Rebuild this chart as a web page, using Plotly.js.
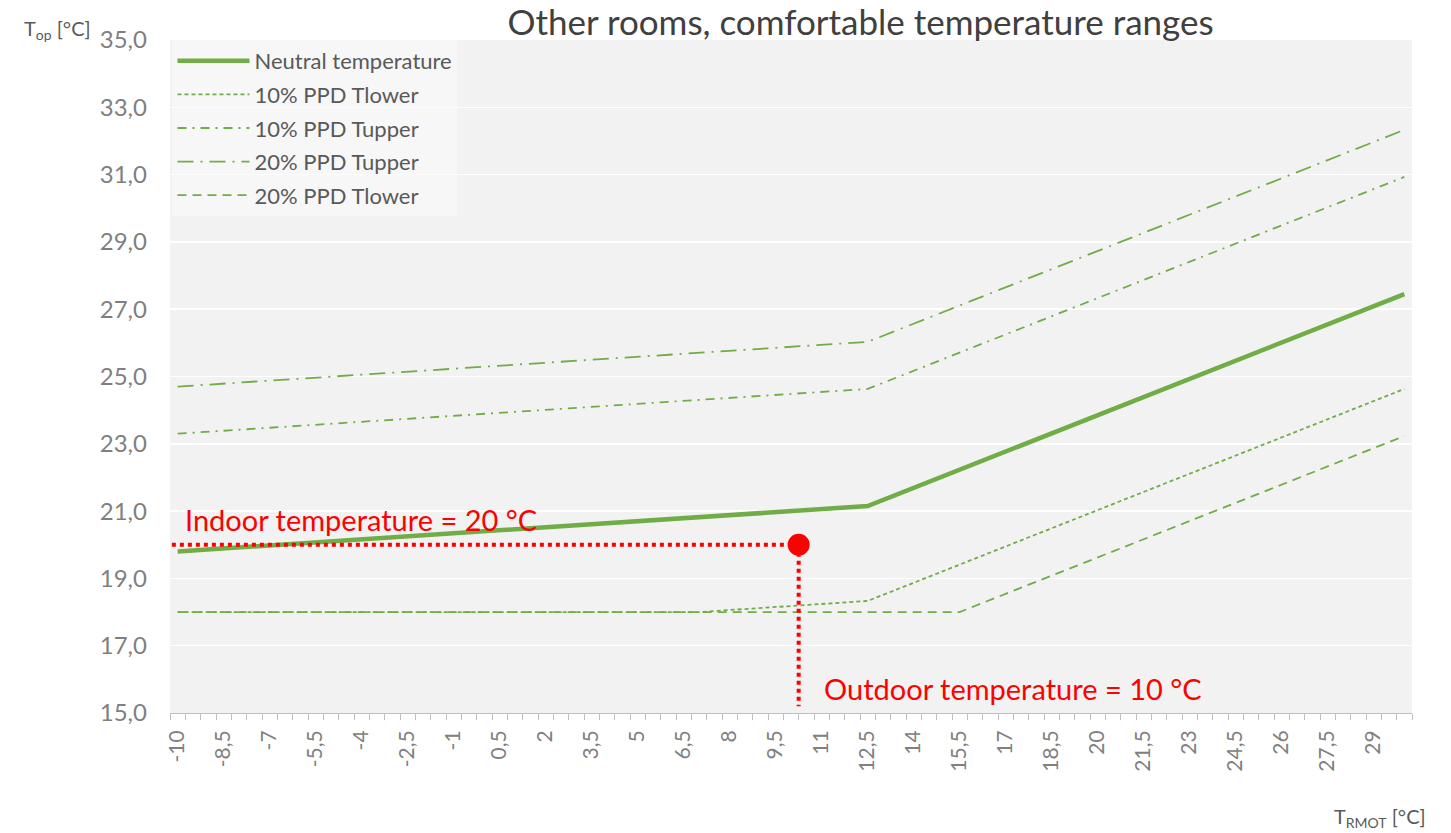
<!DOCTYPE html>
<html>
<head>
<meta charset="utf-8">
<script src="https://cdn.plot.ly/plotly-3.0.1.min.js"></script>
<style>html,body{margin:0;padding:0;background:#fff;}#chart{width:1451px;height:833px;}</style>
</head>
<body>
<div id="chart"></div>
<script>
// Series breakpoints (x = T_RMOT, y = T_op)
const neutralX = [-10, 12, 12.5, 30];
const neutralY = [19.8, 21.1, 21.15, 27.45];
const ppd10LowerX = [-10, 7, 12, 12.5, 30];
const ppd10LowerY = [18.0, 18.0, 18.3, 18.33, 24.63];
const ppd10UpperX = [-10, 12, 12.5, 30];
const ppd10UpperY = [23.3, 24.6, 24.63, 30.93];
const ppd20UpperX = [-10, 12, 12.5, 30];
const ppd20UpperY = [24.7, 26.0, 26.03, 32.33];
const ppd20LowerX = [-10, 15.5, 30];
const ppd20LowerY = [18.0, 18.0, 23.23];
const seriesNames = ['Neutral temperature', '10% PPD Tlower', '10% PPD Tupper', '20% PPD Tupper', '20% PPD Tlower'];

// Highlighted point
const pointX = [10.25];
const pointY = [20.0];

// Axis ticks
const xTickVals = [-10, -8.5, -7, -5.5, -4, -2.5, -1, 0.5, 2, 3.5, 5, 6.5, 8, 9.5, 11, 12.5, 14, 15.5, 17, 18.5, 20, 21.5, 23, 24.5, 26, 27.5, 29];
const xTickText = ['-10', '-8,5', '-7', '-5,5', '-4', '-2,5', '-1', '0,5', '2', '3,5', '5', '6,5', '8', '9,5', '11', '12,5', '14', '15,5', '17', '18,5', '20', '21,5', '23', '24,5', '26', '27,5', '29'];
const yTickVals = [15, 17, 19, 21, 23, 25, 27, 29, 31, 33, 35];
const yTickText = ['15,0', '17,0', '19,0', '21,0', '23,0', '25,0', '27,0', '29,0', '31,0', '33,0', '35,0'];

const green = '#70ad47';
const FONT = 'Lato, "Open Sans", sans-serif';

const traces = [
  {x: neutralX, y: neutralY, name: seriesNames[0], legendgroup: 'g0', mode: 'lines', line: {color: green, width: 4.5}},
  {x: ppd10LowerX, y: ppd10LowerY, name: seriesNames[1], legendgroup: 'g1', mode: 'lines', line: {color: green, width: 1.8, dash: '4px,3px'}},
  {x: ppd10UpperX, y: ppd10UpperY, name: seriesNames[2], legendgroup: 'g2', mode: 'lines', line: {color: green, width: 1.8, dash: '9px,6px,2px,6px'}},
  {x: ppd20UpperX, y: ppd20UpperY, name: seriesNames[3], legendgroup: 'g3', mode: 'lines', line: {color: green, width: 1.8, dash: '16px,7px,2px,7px'}},
  {x: ppd20LowerX, y: ppd20LowerY, name: seriesNames[4], legendgroup: 'g4', mode: 'lines', line: {color: green, width: 1.8, dash: '9px,6px'}},
  {x: pointX, y: pointY, mode: 'markers', showlegend: false, hoverinfo: 'skip',
   marker: {color: '#ff0000', size: 22}}
];

const layout = {
  width: 1451, height: 833,
  margin: {l: 170, r: 39, t: 40, b: 120},
  paper_bgcolor: '#ffffff',
  plot_bgcolor: '#f2f2f2',
  font: {family: FONT, color: '#595959'},
  separators: ', ',
  title: {text: 'Other rooms, comfortable temperature ranges', font: {family: FONT, size: 35, color: '#404040'},
          x: 0.556, xref: 'paper', xanchor: 'center', y: 0.973, yref: 'container', yanchor: 'middle'},
  xaxis: {
    type: 'linear', range: [-10.25, 30.25], fixedrange: true,
    tickmode: 'array', tickvals: xTickVals, ticktext: xTickText, tickangle: -90,
    ticks: '', showgrid: false, zeroline: false,
    showline: true, linecolor: '#bfbfbf', linewidth: 1,
    tickfont: {family: FONT, size: 21, color: '#808080'},
    ticklabelstandoff: 8,
    minor: {tick0: -10.25, dtick: 0.5, ticks: 'outside', ticklen: 6, tickcolor: '#bfbfbf', tickwidth: 1, showgrid: false}
  },
  yaxis: {
    range: [15, 35], fixedrange: true,
    tickmode: 'array', tickvals: yTickVals, ticktext: yTickText,
    ticks: '', showline: false, zeroline: false,
    showgrid: true, gridcolor: '#ffffff', gridwidth: 1.5,
    tickfont: {family: FONT, size: 24, color: '#7f7f7f'},
    ticklabelstandoff: 22
  },
  legend: {
    x: 0.002, y: 1.0, xanchor: 'left', yanchor: 'top',
    bgcolor: 'rgba(250,250,250,0.6)', borderwidth: 0,
    font: {family: FONT, size: 22, color: '#595959'},
    itemwidth: 72, tracegroupgap: 2
  },
  shapes: [
    {type: 'line', xref: 'x', yref: 'y', x0: -10.45, x1: pointX[0], y0: pointY[0], y1: pointY[0],
     line: {color: '#ff0000', width: 4, dash: 'dot'}, layer: 'above'},
    {type: 'line', xref: 'x', yref: 'y', x0: pointX[0], x1: pointX[0], y0: pointY[0], y1: 15.2,
     line: {color: '#ff0000', width: 4, dash: 'dot'}, layer: 'above'}
  ],
  annotations: [
    {text: 'Indoor temperature = 20 °C', xref: 'paper', yref: 'paper', x: 0.0105, y: 0.287,
     xanchor: 'left', yanchor: 'middle', showarrow: false, font: {family: FONT, size: 29, color: '#ff0000'}},
    {text: 'Outdoor temperature = 10 °C', xref: 'paper', yref: 'paper', x: 0.525, y: 0.037,
     xanchor: 'left', yanchor: 'middle', showarrow: false, font: {family: FONT, size: 29, color: '#ff0000'}},
    {text: 'T<sub>op</sub> [°C]', xref: 'paper', yref: 'paper', x: -0.119, y: 1.015,
     xanchor: 'left', yanchor: 'middle', showarrow: false, font: {family: FONT, size: 20, color: '#595959'}},
    {text: 'T<sub>RMOT</sub> [°C]', xref: 'paper', yref: 'paper', x: 1.013, y: -0.156,
     xanchor: 'right', yanchor: 'middle', showarrow: false, font: {family: FONT, size: 20, color: '#595959'}}
  ],
  showlegend: true
};

Plotly.newPlot('chart', traces, layout, {staticPlot: true, displayModeBar: false});
</script>
</body>
</html>
